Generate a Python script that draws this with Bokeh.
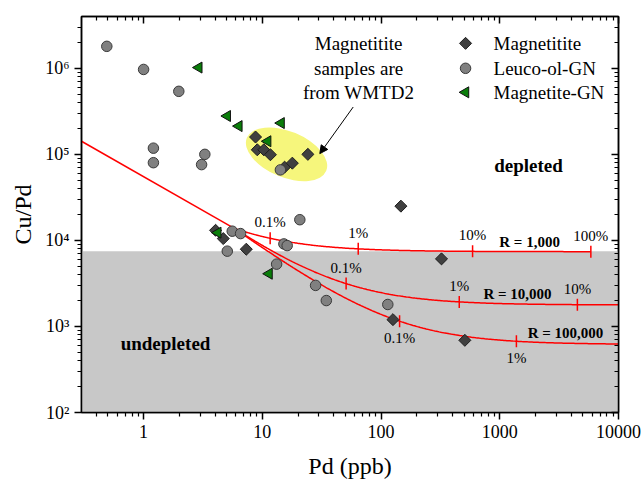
import numpy as np
from bokeh.plotting import figure
from bokeh.models import (Range1d, LogAxis, FixedTicker, Label, Arrow, NormalHead,
                          BoxAnnotation)
from bokeh.embed import file_html
from bokeh.resources import INLINE

SERIF = "Liberation Serif"

# ---- sample data: Pd (ppb) and Cu/Pd ----
magnetitite_pd = [8.77, 9.07, 10.3, 11.7, 15.4, 17.9, 24.2, 147, 4.04, 4.69, 7.33, 323, 126, 508]
magnetitite_cupd = [1.59e5, 1.13e5, 1.13e5, 9.9e4, 7.1e4, 7.9e4, 1.0e5, 2.5e4,
                    1.31e4, 1.05e4, 7.9e3, 6.1e3, 1.2e3, 690]

leuco_pd = [0.49, 1.0, 1.98, 1.21, 1.21, 3.28, 3.08, 14.2, 5.58, 6.56, 5.07,
            20.7, 15.2, 16.2, 13.2, 28.1, 34.6, 114]
leuco_cupd = [1.8e6, 9.7e5, 5.4e5, 1.18e5, 8.0e4, 1.0e5, 7.6e4, 6.6e4, 1.28e4, 1.2e4, 7.5e3,
              1.74e4, 9.1e3, 8.7e3, 5.3e3, 3.0e3, 2.0e3, 1.8e3]

magnetite_gn_pd = [2.92, 5.07, 6.35, 14.4, 11.1, 4.22, 11.4]
magnetite_gn_cupd = [1.02e6, 2.79e5, 2.13e5, 2.31e5, 1.42e5, 1.23e4, 4.1e3]

series_names = ["Magnetitite", "Leuco-ol-GN", "Magnetite-GN"]

# ---- sulfide / silicate mixing model ----
mantle_cupd = 7500                      # upper limit of undepleted field
silicate_pd = 5.8                       # ppb
silicate_cu = 80000                     # ppb
silicate_trend_pd = [0.3, silicate_pd]  # depleted-magma trend feeding the mixing lines
silicate_trend_cupd = [1.42e5, silicate_cu / silicate_pd]

r_factors = [1000, 10000, 100000]
r_names = ["R = 1,000", "R = 10,000", "R = 100,000"]
sulfide_pd = [5850, 45000, 137500]      # ppb
sulfide_cu = [4.33e7, 8.0e7, 8.5e7]     # ppb
sulfide_fractions = [[0.001, 0.01, 0.1, 1.0], [0.001, 0.01, 0.1], [0.001, 0.01]]
fraction_names = [["0.1%", "1%", "10%", "100%"], ["0.1%", "1%", "10%"], ["0.1%", "1%"]]

x_major = [1, 10, 100, 1000, 10000]
x_tick_labels = ["1", "10", "100", "1000", "10000"]
y_major = [1e2, 1e3, 1e4, 1e5, 1e6]
y_tick_labels = ["10\u00b2", "10\u00b3", "10\u2074", "10\u2075", "10\u2076"]


def mix(f, pd_sul, cu_sul):
    f = np.asarray(f, dtype=float)
    pd = f * pd_sul + (1 - f) * silicate_pd
    cu = f * cu_sul + (1 - f) * silicate_cu
    return pd, cu / pd


p = figure(width=644, height=482, x_axis_type="log", y_axis_type="log",
           x_range=Range1d(0.3, 1e4), y_range=Range1d(1e2, 4e6),
           output_backend="svg", toolbar_location=None,
           min_border_left=81, min_border_right=26, min_border_top=16, min_border_bottom=70)
p.grid.visible = False
p.outline_line_color = "black"
p.outline_line_width = 1.5
p.background_fill_color = "white"
p.border_fill_color = "white"

# undepleted field
p.add_layout(BoxAnnotation(top=mantle_cupd, fill_color="#c8c8c8", fill_alpha=1.0,
                           line_alpha=0, level="underlay"))

# highlight around the WMTD2 magnetitite cluster
p.ellipse(x=[16.0], y=[1.0e5], width=86, height=46, angle=-0.394,
          width_units="screen", height_units="screen",
          fill_color="#f6f67c", line_color=None)

# mixing curves
p.line(silicate_trend_pd, silicate_trend_cupd, line_color="#ff0000", line_width=1.5)
sample_f = np.concatenate([[0.0], np.logspace(-5, 0, 400)])
for pd_s, cu_s, fr in zip(sulfide_pd, sulfide_cu, sulfide_fractions):
    cx, cy = mix(sample_f, pd_s, cu_s)
    p.line(cx, cy, line_color="#ff0000", line_width=1.5)
    tx, ty = mix(fr, pd_s, cu_s)
    p.scatter(tx, ty, marker="dash", angle=np.pi / 2, size=12,
              line_color="#ff0000", line_width=1.5)

label_above = [True, True, False]
for pd_s, cu_s, fr, names, above in zip(sulfide_pd, sulfide_cu, sulfide_fractions,
                                         fraction_names, label_above):
    tx, ty = mix(fr, pd_s, cu_s)
    for x, y, t in zip(tx, ty, names):
        p.add_layout(Label(x=x, y=y, text=t, y_offset=16 if above else -17,
                           text_align="center", text_baseline="middle",
                           text_font=SERIF, text_font_size="15px", text_color="black"))

r_label_pd = [1782, 1410, 3580]
r_label_cupd = [9480, 2356, 830]
for x, y, t in zip(r_label_pd, r_label_cupd, r_names):
    p.add_layout(Label(x=x, y=y, text=t, text_align="center", text_baseline="middle",
                       text_font=SERIF, text_font_size="15px", text_font_style="bold",
                       text_color="black"))

# marker styles per series
styles = [
    dict(marker="square", angle=np.pi / 4, size=8.5, fill_color="#404040",
         line_color="#1e1e1e", line_width=1),
    dict(marker="circle", angle=0.0, size=10.5, fill_color="#808080",
         line_color="#3a3a3a", line_width=1),
    dict(marker="triangle", angle=np.pi / 2, size=11, fill_color="#0a7d0a",
         line_color="#111111", line_width=1),
]

# samples
for xs, ys, st in zip([magnetitite_pd, leuco_pd, magnetite_gn_pd],
                      [magnetitite_cupd, leuco_cupd, magnetite_gn_cupd], styles):
    p.scatter(xs, ys, **st)

# key (top right, inside the frame)
key_pd = 515
key_text_pd = 886
key_cupd = [1.95e6, 1.0e6, 5.26e5]
for y, name, st in zip(key_cupd, series_names, styles):
    p.scatter([key_pd], [y], **st)
    p.add_layout(Label(x=key_text_pd, y=y, text=name, text_align="left",
                       text_baseline="middle", text_font=SERIF, text_font_size="19px",
                       text_color="black"))

# field names and note
p.add_layout(Label(x=1746, y=7.45e4, text="depleted", text_align="center",
                   text_baseline="middle", text_font=SERIF, text_font_size="19px",
                   text_font_style="bold", text_color="black"))
p.add_layout(Label(x=1.53, y=634, text="undepleted", text_align="center",
                   text_baseline="middle", text_font=SERIF, text_font_size="19px",
                   text_font_style="bold", text_color="black"))
note_lines = ["Magnetitite", "samples are", "from WMTD2"]
note_y = [1.95e6, 1.0e6, 5.26e5]
for t, y in zip(note_lines, note_y):
    p.add_layout(Label(x=64.7, y=y, text=t, text_align="center", text_baseline="middle",
                       text_font=SERIF, text_font_size="19px", text_color="black"))
p.add_layout(Arrow(end=NormalHead(size=8, fill_color="black", line_color="black", line_width=1),
                   x_start=58.3, y_start=3.55e5, x_end=30.5, y_end=1.02e5,
                   line_color="black", line_width=1))

# axes
x_minor = [m * 10.0 ** k for k in range(-1, 4) for m in range(2, 10) if 0.31 < m * 10.0 ** k < 1e4]
y_minor = [m * 10.0 ** k for k in range(2, 7) for m in range(2, 10) if m * 10.0 ** k < 4e6]
x_ticker = FixedTicker(ticks=x_major, minor_ticks=x_minor)
y_ticker = FixedTicker(ticks=y_major, minor_ticks=y_minor)

xa = p.xaxis[0]
ya = p.yaxis[0]
xa.ticker = x_ticker
ya.ticker = y_ticker
xa.major_label_overrides = {float(v): s for v, s in zip(x_major, x_tick_labels)}
ya.major_label_overrides = {float(v): s for v, s in zip(y_major, y_tick_labels)}
xa.axis_label = "Pd (ppb)"
ya.axis_label = "Cu/Pd"
for ax in (xa, ya):
    ax.major_tick_out = 7
    ax.major_tick_in = 0
    ax.minor_tick_out = 4
    ax.minor_tick_in = 0
    ax.axis_line_width = 1.5
    ax.major_tick_line_width = 1.5
    ax.minor_tick_line_width = 1.2
    ax.major_label_text_font = SERIF
    ax.major_label_text_font_size = "18px"
    ax.major_label_text_color = "black"
    ax.axis_label_text_font = SERIF
    ax.axis_label_text_font_size = "24px"
    ax.axis_label_text_font_style = "normal"
    ax.axis_label_text_color = "black"
xa.major_label_standoff = 5
xa.axis_label_standoff = 12
ya.major_label_standoff = 5
ya.axis_label_standoff = 6

top_ax = LogAxis(ticker=x_ticker, major_tick_in=7, major_tick_out=0, minor_tick_in=4,
                 minor_tick_out=0, axis_line_width=1.5, major_tick_line_width=1.5,
                 minor_tick_line_width=1.2,
                 major_label_overrides={float(v): "" for v in x_major})
right_ax = LogAxis(ticker=y_ticker, major_tick_in=7, major_tick_out=0, minor_tick_in=4,
                   minor_tick_out=0, axis_line_width=1.5, major_tick_line_width=1.5,
                   minor_tick_line_width=1.2,
                   major_label_overrides={float(v): "" for v in y_major})
p.add_layout(top_ax, "above")
p.add_layout(right_ax, "right")

open("out.html", "w").write(file_html(p, INLINE))
